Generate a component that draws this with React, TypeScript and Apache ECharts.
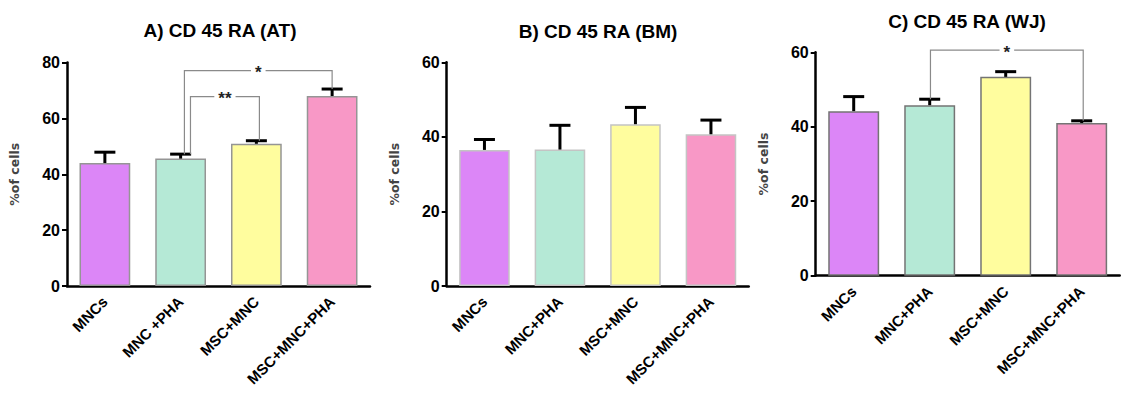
import React, { useEffect, useRef } from "react";
import * as echarts from "echarts";

// Group labels (panel A writes "MNC +PHA" with a space)
const categoriesA = ["MNCs", "MNC +PHA", "MSC+MNC", "MSC+MNC+PHA"];
const categoriesBC = ["MNCs", "MNC+PHA", "MSC+MNC", "MSC+MNC+PHA"];

// Mean % of CD45RA+ cells and SD per group
const meanAT = [44.0, 45.6, 50.9, 68.0];
const sdAT = [3.9, 1.6, 1.1, 2.5];
const meanBM = [36.5, 36.6, 43.4, 40.7];
const sdBM = [2.8, 6.5, 4.5, 3.8];
const meanWJ = [44.2, 45.8, 53.4, 41.0];
const sdWJ = [3.9, 1.6, 1.4, 0.6];

// Y axis ranges
const yMaxAT = 80;
const yMaxBM = 60;
const yMaxWJ = 60;
const yStep = 20;

// Significance brackets: [fromIndex, toIndex, level, footFrom, footTo]
const bracketsAT = [
  [1, 3, 77.1, 47.2, 70.5],
  [1, 2, 67.8, 47.2, 52.0],
];
const bracketLabelsAT = ["*", "**"];
// horizontal shift of each leg, as a fraction of a category band
const bracketShiftAT = [
  [0.05, 0.0],
  [0.13, 0.04],
];
const bracketsWJ = [[1, 3, 60.6, 47.4, 41.6]];
const bracketLabelsWJ = ["*"];
const bracketShiftWJ = [[0.01, 0.02]];

const titles = ["A) CD 45 RA (AT)", "B) CD 45 RA (BM)", "C) CD 45 RA (WJ)"];
const yAxisName = "%of cells";

const colors = ["#DC86F7", "#B5E9D6", "#FFFD9E", "#F898C6"];
const borderColors = ["#959595", "#c4c4c4", "#747474"];
const FONT = "'Liberation Sans', Arial, sans-serif";

const grids = [
  { left: 67, top: 62.5, width: 303, height: 223.5 },
  { left: 446.7, top: 62.3, width: 302, height: 223.7 },
  { left: 815.7, top: 52.3, width: 304, height: 223.4 },
];

function errorSeries(idx: number, mean: number[], sd: number[]) {
  return {
    type: "custom",
    xAxisIndex: idx,
    yAxisIndex: idx,
    z: 5,
    silent: true,
    data: mean.map((m, i) => [i, m, m + sd[i]]),
    renderItem: (params: any, api: any) => {
      const base = api.coord([api.value(0), api.value(1)]);
      const top = api.coord([api.value(0), api.value(2)]);
      const half = 10.5;
      return {
        type: "group",
        children: [
          {
            type: "line",
            shape: { x1: base[0], y1: base[1], x2: top[0], y2: top[1] },
            style: { stroke: "#000", lineWidth: 3 },
          },
          {
            type: "line",
            shape: { x1: top[0] - half, y1: top[1], x2: top[0] + half, y2: top[1] },
            style: { stroke: "#000", lineWidth: 3 },
          },
        ],
      };
    },
  };
}

function bracketSeries(idx: number, data: number[][], labels: string[], shifts: number[][]) {
  return {
    type: "custom",
    xAxisIndex: idx,
    yAxisIndex: idx,
    z: 6,
    silent: true,
    clip: false,
    data,
    renderItem: (params: any, api: any) => {
      const d = data[params.dataIndex];
      const s = shifts[params.dataIndex];
      const band = api.size([1, 0])[0];
      const fx = api.coord([d[0], d[2]])[0] + s[0] * band;
      const tx = api.coord([d[1], d[2]])[0] + s[1] * band;
      const ly = api.coord([d[0], d[2]])[1];
      const fy = api.coord([d[0], d[3]])[1];
      const ty = api.coord([d[1], d[4]])[1];
      return {
        type: "group",
        children: [
          {
            type: "polyline",
            shape: { points: [[fx, fy], [fx, ly], [tx, ly], [tx, ty]] },
            style: { stroke: "#8a8a8a", lineWidth: 1.2, fill: null },
          },
          {
            type: "text",
            x: (fx + tx) / 2,
            y: ly + 2,
            style: {
              text: labels[params.dataIndex],
              align: "center",
              verticalAlign: "middle",
              fill: "#222",
              font: `bold 17px ${FONT}`,
              backgroundColor: "#fff",
              padding: [0, 4],
            },
          },
        ],
      };
    },
  };
}

function barSeries(idx: number, mean: number[]) {
  return {
    type: "bar",
    xAxisIndex: idx,
    yAxisIndex: idx,
    barWidth: "67%",
    z: 2,
    data: mean.map((v, i) => ({
      value: v,
      itemStyle: { color: colors[i], borderColor: borderColors[idx], borderWidth: 1.5 },
    })),
  };
}

const titlePos = [
  [220, 30],
  [598, 31],
  [967, 21],
];

export default function App() {
  const ref = useRef<HTMLDivElement>(null);

  useEffect(() => {
    if (!ref.current) return;
    const chart = echarts.init(ref.current, undefined, { renderer: "svg" });
    const cats = [categoriesA, categoriesBC, categoriesBC];
    const maxes = [yMaxAT, yMaxBM, yMaxWJ];

    chart.setOption({
      animation: false,
      backgroundColor: "#fff",
      grid: grids,
      xAxis: cats.map((c, i) => ({
        type: "category",
        gridIndex: i,
        data: c,
        axisLine: { lineStyle: { color: "#000", width: 2.5 } },
        axisTick: { alignWithLabel: true, length: 5, lineStyle: { color: "#000", width: 2 } },
        axisLabel: {
          interval: 0,
          rotate: 45,
          margin: 13,
          color: "#000",
          fontWeight: "bold",
          fontSize: 15,
          fontFamily: FONT,
        },
        splitLine: { show: false },
      })),
      yAxis: maxes.map((m, i) => ({
        type: "value",
        gridIndex: i,
        min: 0,
        max: m,
        interval: yStep,
        name: yAxisName,
        nameLocation: "middle",
        nameGap: 46,
        nameRotate: 90,
        nameTextStyle: {
          color: "#444",
          fontWeight: "bold",
          fontSize: 12.5,
          fontFamily: "'DejaVu Sans', sans-serif",
        },
        axisLine: { show: true, lineStyle: { color: "#000", width: 2.5 } },
        axisTick: { show: true, length: 5, lineStyle: { color: "#000", width: 2 } },
        axisLabel: {
          color: "#000",
          fontWeight: "bold",
          fontSize: 16,
          fontFamily: FONT,
          margin: 7,
        },
        splitLine: { show: false },
      })),
      graphic: titles.map((t, i) => ({
        type: "text",
        x: titlePos[i][0],
        y: titlePos[i][1],
        style: {
          text: t,
          align: "center",
          verticalAlign: "middle",
          fill: "#000",
          font: `bold 19px ${FONT}`,
        },
      })),
      series: [
        barSeries(0, meanAT),
        barSeries(1, meanBM),
        barSeries(2, meanWJ),
        errorSeries(0, meanAT, sdAT),
        errorSeries(1, meanBM, sdBM),
        errorSeries(2, meanWJ, sdWJ),
        bracketSeries(0, bracketsAT, bracketLabelsAT, bracketShiftAT),
        bracketSeries(2, bracketsWJ, bracketLabelsWJ, bracketShiftWJ),
      ],
    });

    return () => chart.dispose();
  }, []);

  return (
    <div
      ref={ref}
      style={{ position: "absolute", left: 0, top: 0, width: 1121, height: 398 }}
    />
  );
}
